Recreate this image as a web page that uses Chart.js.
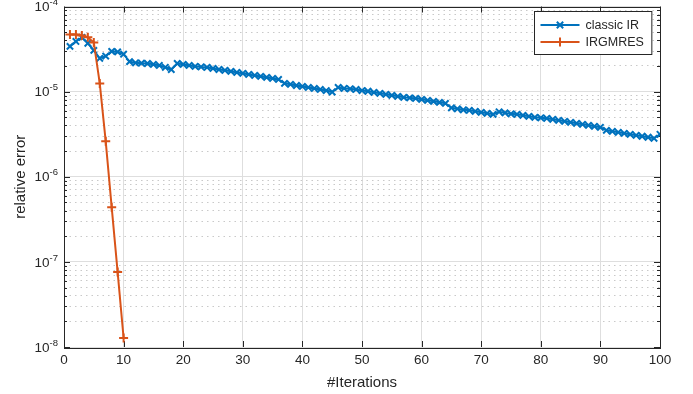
<!DOCTYPE html>
<html><head><meta charset="utf-8">
<script src="https://cdn.jsdelivr.net/npm/chart.js@4.4.1/dist/chart.umd.min.js"></script>
<style>html,body{margin:0;padding:0;background:#fff}canvas{display:block}</style>
</head><body>
<canvas id="c" width="693" height="394"></canvas>
<script>
// ---- data ----
const seriesNames = ['classic IR', 'IRGMRES'];
const classicIR = [
  3.40e-5, 3.89e-5, 4.33e-5, 3.70e-5, 3.05e-5, 2.46e-5, 2.62e-5, 2.97e-5, 2.93e-5, 2.75e-5,
  2.25e-5, 2.18e-5, 2.16e-5, 2.14e-5, 2.09e-5, 2.03e-5, 1.93e-5, 1.82e-5, 2.14e-5, 2.09e-5,
  2.03e-5, 1.98e-5, 1.95e-5, 1.93e-5, 1.87e-5, 1.82e-5, 1.78e-5, 1.73e-5, 1.68e-5, 1.64e-5,
  1.59e-5, 1.55e-5, 1.51e-5, 1.47e-5, 1.43e-5, 1.39e-5, 1.25e-5, 1.22e-5, 1.18e-5, 1.15e-5,
  1.12e-5, 1.09e-5, 1.06e-5, 1.03e-5, 9.90e-6, 1.12e-5, 1.09e-5, 1.08e-5, 1.06e-5, 1.03e-5,
  1.01e-5, 9.80e-6, 9.54e-6, 9.28e-6, 9.04e-6, 8.80e-6, 8.56e-6, 8.45e-6, 8.33e-6, 8.11e-6,
  7.89e-6, 7.68e-6, 7.48e-6, 7.28e-6, 6.45e-6, 6.28e-6, 6.11e-6, 6.03e-6, 5.87e-6, 5.71e-6,
  5.56e-6, 5.41e-6, 5.79e-6, 5.63e-6, 5.48e-6, 5.41e-6, 5.26e-6, 5.12e-6, 4.99e-6, 4.92e-6,
  4.86e-6, 4.73e-6, 4.60e-6, 4.48e-6, 4.36e-6, 4.24e-6, 4.13e-6, 4.02e-6, 3.91e-6, 3.81e-6,
  3.51e-6, 3.42e-6, 3.33e-6, 3.24e-6, 3.15e-6, 3.07e-6, 2.99e-6, 2.91e-6, 2.83e-6, 3.15e-6
];
const irgmres = [4.69e-5, 4.69e-5, 4.57e-5, 4.35e-5, 3.78e-5, 1.25e-5, 2.61e-6, 4.39e-7, 7.58e-8, 1.275e-8];
const xTicks = [0, 10, 20, 30, 40, 50, 60, 70, 80, 90, 100];
const yDecades = [1e-8, 1e-7, 1e-6, 1e-5, 1e-4];
const yTickBase = '10';
const yTickExponents = ['-8', '-7', '-6', '-5', '-4'];
const xTitle = '#Iterations';
const yTitle = 'relative error';
const seriesColors = ['#0072BD', '#D95319'];
const seriesMarkers = ['crossRot', 'cross'];

// ---- styling ----
const FONT = '"Liberation Sans", Arial, Helvetica, sans-serif';
const AXIS = '#262626';
Chart.defaults.font.family = FONT;
Chart.defaults.color = AXIS;

function decadeIndex(v) { return yDecades.findIndex(d => Math.abs(d - v) / d < 1e-6); }
function isDecade(v) { return decadeIndex(v) >= 0; }

const framePlugin = {
  id: 'frame',
  beforeDatasetsDraw(chart) {
    const {ctx, chartArea: ca, scales} = chart;
    ctx.save();
    ctx.strokeStyle = AXIS;
    ctx.lineWidth = 1;
    ctx.beginPath();
    scales.y.ticks.forEach(t => {
      const py = Math.round(scales.y.getPixelForValue(t.value)) + 0.5;
      const len = isDecade(t.value) ? 6 : 3;
      ctx.moveTo(ca.left, py); ctx.lineTo(ca.left + len, py);
      ctx.moveTo(ca.right, py); ctx.lineTo(ca.right - len, py);
    });
    xTicks.forEach(v => {
      const px = Math.round(scales.x.getPixelForValue(v)) + 0.5;
      ctx.moveTo(px, ca.bottom); ctx.lineTo(px, ca.bottom - 6);
      ctx.moveTo(px, ca.top); ctx.lineTo(px, ca.top + 6);
    });
    ctx.stroke();
    ctx.strokeRect(Math.round(ca.left) + 0.5, Math.round(ca.top) + 0.5,
                   Math.round(ca.right - ca.left), Math.round(ca.bottom - ca.top));
    ctx.restore();
  },
  afterDraw(chart) {
    // y tick labels as "10" with a raised exponent
    const {ctx, chartArea: ca, scales} = chart;
    ctx.save();
    ctx.fillStyle = AXIS;
    ctx.textBaseline = 'middle';
    ctx.textAlign = 'left';
    yDecades.forEach((d, k) => {
      const py = scales.y.getPixelForValue(d);
      ctx.font = '9.5px ' + FONT;
      const ew = ctx.measureText(yTickExponents[k]).width;
      ctx.font = '13.5px ' + FONT;
      const bw = ctx.measureText(yTickBase).width;
      const right = ca.left - 6;
      const bx = right - ew - bw;
      ctx.fillText(yTickBase, bx, py + 1);
      ctx.font = '9.5px ' + FONT;
      ctx.fillText(yTickExponents[k], bx + bw, py - 4);
    });
    ctx.restore();
  }
};

const legendPlugin = {
  id: 'boxLegend',
  afterDraw(chart) {
    const {ctx, chartArea: ca} = chart;
    ctx.save();
    ctx.font = '12.5px ' + FONT;
    const tw = Math.max(...seriesNames.map(s => ctx.measureText(s).width));
    const w = 51 + tw + 8, h = 43;
    const x0 = Math.round(ca.right - 9 - w) + 0.5, y0 = Math.round(ca.top + 4) + 0.5;
    ctx.fillStyle = '#fff';
    ctx.fillRect(x0, y0, w, h);
    ctx.strokeStyle = AXIS; ctx.lineWidth = 1;
    ctx.strokeRect(x0, y0, w, h);
    seriesNames.forEach((name, i) => {
      const cy = y0 + 13.5 + i * 17;
      ctx.strokeStyle = seriesColors[i];
      ctx.lineWidth = 2;
      ctx.beginPath(); ctx.moveTo(x0 + 6, cy); ctx.lineTo(x0 + 45, cy); ctx.stroke();
      ctx.lineWidth = 2;
      Chart.helpers.drawPoint(ctx, {pointStyle: seriesMarkers[i], radius: 4.5, rotation: 0, borderWidth: 2}, x0 + 25.5, cy);
      ctx.fillStyle = AXIS;
      ctx.textBaseline = 'middle';
      ctx.textAlign = 'left';
      ctx.fillText(name, x0 + 51, cy + 0.5);
    });
    ctx.restore();
  }
};

new Chart(document.getElementById('c'), {
  type: 'line',
  data: {
    datasets: [
      {
        label: seriesNames[0],
        data: classicIR.map((v, i) => ({x: i + 1, y: v})),
        borderColor: seriesColors[0], backgroundColor: seriesColors[0],
        borderWidth: 2, pointStyle: seriesMarkers[0], pointRadius: 4.5, pointBorderWidth: 2,
        tension: 0, order: 1
      },
      {
        label: seriesNames[1],
        data: irgmres.map((v, i) => ({x: i + 1, y: v})),
        borderColor: seriesColors[1], backgroundColor: seriesColors[1],
        borderWidth: 2, pointStyle: seriesMarkers[1], pointRadius: 4.5, pointBorderWidth: 2,
        tension: 0, order: 0
      }
    ]
  },
  options: {
    responsive: false,
    animation: false,
    devicePixelRatio: 1,
    layout: {padding: {top: 6, right: 33, left: 0, bottom: 0}},
    plugins: {legend: {display: false}, tooltip: {enabled: false}},
    scales: {
      x: {
        type: 'linear', min: 0, max: 100,
        afterFit: s => { s.height = 47; },
        afterBuildTicks: s => { s.ticks = xTicks.map(v => ({value: v})); },
        ticks: {font: {size: 13.5}, padding: 5, color: AXIS, maxRotation: 0, autoSkip: false},
        grid: {color: '#dedede', lineWidth: 1, drawTicks: false},
        border: {display: false},
        title: {display: true, text: xTitle, font: {size: 15}, color: AXIS, padding: {top: 0, bottom: 2}}
      },
      y: {
        type: 'logarithmic', min: 1e-8, max: 1e-4,
        afterFit: s => { s.width = 64; },
        afterBuildTicks: s => {
          const t = [];
          yDecades.forEach((d, k) => {
            t.push({value: d, major: true});
            if (k < yDecades.length - 1) for (let m = 2; m <= 9; m++) t.push({value: d * m, major: false});
          });
          s.ticks = t;
        },
        ticks: {display: false, autoSkip: false},
        grid: {
          drawTicks: false, lineWidth: 1,
          color: c => (c.tick && isDecade(c.tick.value)) ? '#dedede' : '#c9c9c9'
        },
        border: {display: false, dash: c => (c.tick && isDecade(c.tick.value)) ? [] : [1.5, 4]},
        title: {display: true, text: yTitle, font: {size: 15}, color: AXIS, padding: {top: 12, bottom: 0}}
      }
    }
  },
  plugins: [framePlugin, legendPlugin]
});
</script>
</body></html>
